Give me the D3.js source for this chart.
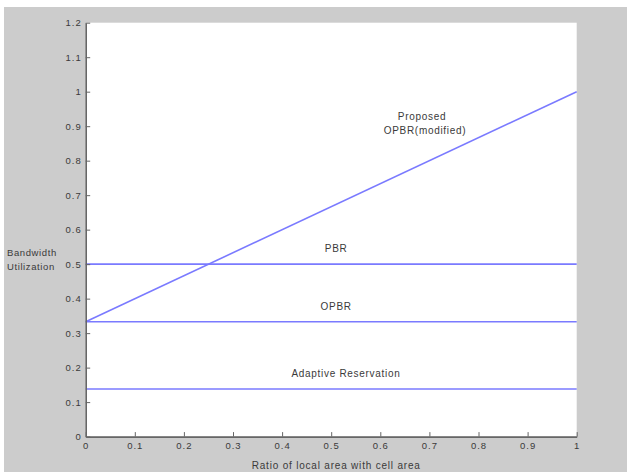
<!DOCTYPE html>
<html>
<head>
<meta charset="utf-8">
<script src="https://cdn.jsdelivr.net/npm/d3@7"></script>
<style>
  html, body { margin: 0; padding: 0; background: #fff; }
  svg { display: block; }
  .tick-label, .note, .axis-title { font-family: Arial, "Liberation Sans", Helvetica, sans-serif; fill: #3a3a3a; }
</style>
</head>
<body>
<svg id="chart" width="627" height="472"></svg>
<script>
(function () {
  "use strict";

  // values
  const xTicks = [0, 0.1, 0.2, 0.3, 0.4, 0.5, 0.6, 0.7, 0.8, 0.9, 1];
  const xTickLabels = ["0", "0.1", "0.2", "0.3", "0.4", "0.5", "0.6", "0.7", "0.8", "0.9", "1"];
  const yTicks = [0, 0.1, 0.2, 0.3, 0.4, 0.5, 0.6, 0.7, 0.8, 0.9, 1, 1.1, 1.2];
  const yTickLabels = ["0", "0.1", "0.2", "0.3", "0.4", "0.5", "0.6", "0.7", "0.8", "0.9", "1", "1.1", "1.2"];

  const proposedX = [0, 1];
  const proposedY = [0.333, 1];

  const levelNames = ["PBR", "OPBR", "Adaptive Reservation"];
  const levelValues = [0.5, 0.333, 0.138];

  const xTitle = "Ratio of local area with cell area";
  const yTitle = ["Bandwidth", "Utilization"];
  const proposedLabel = ["Proposed", "OPBR(modified)"];

  // layout
  const W = 627, H = 472;
  const plot = { left: 85.7, right: 576.7, top: 22.7, bottom: 436.6 };
  const lineColor = "#7a7aff";
  const axisColor = "#666";

  const svg = d3.select("#chart");

  // figure background (grey), with thin white strip top/left
  svg.append("rect").attr("x", 4).attr("y", 7).attr("width", W - 4).attr("height", H - 7).attr("fill", "#cccccc");
  svg.append("rect")
    .attr("x", plot.left).attr("y", plot.top)
    .attr("width", plot.right - plot.left).attr("height", plot.bottom - plot.top)
    .attr("fill", "#fff");

  const x = d3.scaleLinear().domain([0, 1]).range([plot.left, plot.right]);
  const y = d3.scaleLinear().domain([0, 1.2]).range([plot.bottom, plot.top]);

  // data lines
  const lines = svg.append("g").attr("fill", "none").attr("stroke", lineColor).attr("stroke-width", 1.6);
  lines.selectAll("line.level")
    .data(levelValues)
    .join("line")
    .attr("class", "level")
    .attr("x1", x(0)).attr("x2", x(1))
    .attr("y1", (d) => y(d)).attr("y2", (d) => y(d));

  const lineGen = d3.line().x((d) => x(d[0])).y((d) => y(d[1]));
  lines.append("path").attr("d", lineGen(d3.zip(proposedX, proposedY)));

  // axes (ticks inward, no box)
  const xAxis = d3.axisBottom(x).tickValues(xTicks).tickSize(0).tickFormat((d, i) => xTickLabels[i]);
  const yAxis = d3.axisLeft(y).tickValues(yTicks).tickSize(0).tickFormat((d, i) => yTickLabels[i]);

  const gx = svg.append("g").attr("transform", `translate(0,${plot.bottom})`).call(xAxis);
  const gy = svg.append("g").attr("transform", `translate(${plot.left},0)`).call(yAxis);

  [gx, gy].forEach((g) => {
    g.attr("font-size", null).attr("font-family", null);
    g.select(".domain").attr("stroke", axisColor).attr("stroke-width", 1.6);
    g.selectAll(".tick text")
      .attr("class", "tick-label")
      .attr("font-size", 9.5)
      .attr("letter-spacing", 1)
      .attr("fill", "#3a3a3a");
  });
  gx.selectAll(".tick text").attr("dy", "0.71em").attr("y", 6);
  gy.selectAll(".tick text").attr("x", -4);

  gx.selectAll(".tick").append("line").attr("y1", 0).attr("y2", -4.5).attr("stroke", axisColor);
  gy.selectAll(".tick").append("line").attr("x1", 0).attr("x2", 4.5).attr("stroke", axisColor);

  // in-plot labels
  const notes = svg.append("g").attr("class", "note")
    .attr("font-size", 10).attr("letter-spacing", 0.7).attr("text-anchor", "middle");
  const noteX = [0.51, 0.51, 0.53];
  notes.selectAll("text.level-note")
    .data(levelNames)
    .join("text")
    .attr("class", "level-note")
    .attr("x", (d, i) => x(noteX[i]))
    .attr("y", (d, i) => y(levelValues[i]) - 12)
    .text((d) => d);

  notes.selectAll("text.prop-note")
    .data(proposedLabel)
    .join("text")
    .attr("class", "prop-note")
    .attr("x", (d, i) => x(0.685) + i * 3)
    .attr("y", (d, i) => y(0.917) + i * 14)
    .text((d) => d);

  // axis titles
  svg.append("text").attr("class", "axis-title")
    .attr("x", (plot.left + plot.right) / 2 + 5).attr("y", 469)
    .attr("text-anchor", "middle").attr("font-size", 10).attr("letter-spacing", 0.8)
    .text(xTitle);

  svg.append("g").attr("class", "axis-title").attr("font-size", 9.5).attr("letter-spacing", 0.6)
    .selectAll("text")
    .data(yTitle)
    .join("text")
    .attr("x", 7)
    .attr("y", (d, i) => 256 + i * 14)
    .text((d) => d);
})();
</script>
</body>
</html>
